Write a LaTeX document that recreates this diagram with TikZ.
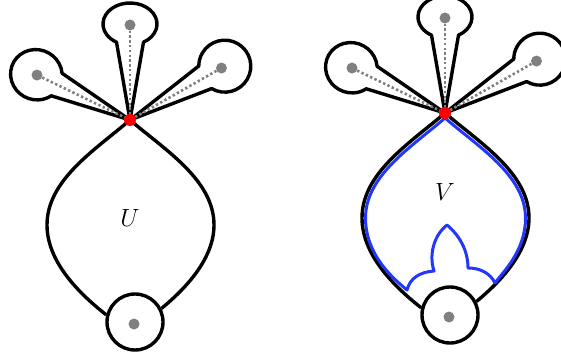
\documentclass[tikz,border=0pt]{standalone}
\usepackage{tikz}
\usetikzlibrary{calc}
\definecolor{curveblue}{RGB}{35,55,250}

\begin{document}
\begin{tikzpicture}[
    x=1pt, y=1pt,
    lobe/.style={draw=black, line width=3.4pt, line join=round},
    body/.style={draw=black, line width=3.4pt},
    hole/.style={circle, draw=black, line width=3.4pt, fill=white, minimum size=56pt, inner sep=0pt},
    gdot/.style={circle, fill=gray, minimum size=11pt, inner sep=0pt},
    link/.style={gray, line width=2.6pt, dash pattern=on 2.4pt off 2.4pt},
    vertex/.style={circle, fill=red, minimum size=12pt, inner sep=0pt},
    trace/.style={draw=curveblue, line width=3pt, line join=round},
    lab/.style={font=\fontsize{28}{30}\selectfont}
]
\useasboundingbox (0,0) rectangle (561,356);

% Two figures, the second one shifted
\foreach \f/\sx/\sy/\lb/\ly in {1/0/0/U/138, 2/315/7/V/157} {
  \begin{scope}[shift={(\sx,\sy)}]
    \coordinate (v\f) at (130,236);

    % Lobes at the vertex
    \foreach \i/\ang/\L/\c/\a/\b in {1/154.2/103.3/104/26/25, 2/90/95/96/21/27, 3/29.6/105.2/109/26/26} {
      \begin{scope}[shift={(130,236)}, rotate=\ang]
        \draw[lobe] (v\f) -- ({\c-0.866*\a},{-0.5*\b})
          arc[start angle=-150, end angle=150, x radius=\a, y radius=\b] -- cycle;
        \node[gdot] (d\f\i) at (\L,0) {};
      \end{scope}
      \draw[link] (d\f\i) -- (v\f);
    }

    % Bottom hole
    \node[hole] (b\f) at (135,34) {};
    \node[gdot] (c\f) at (134,32) {};

    % Body
    \draw[body] (v\f) .. controls (95,206) and (47,176) .. (47,131)
      .. controls (47,91) and (85,58) .. (b\f.166);
    \draw[body] (v\f) .. controls (165,206) and (214,176) .. (214,131)
      .. controls (214,94) and (180,63) .. (b\f.27);

    \node[lab] (n\f) at (130,\ly) {$\lb$};
  \end{scope}
}

% Blue curve inside V
\draw[trace] (445,238) .. controls (413,210) and (365.5,181) .. (365.5,138)
  .. controls (365.5,100) and (395,76) .. (407,66)
  .. controls (410,78) and (420,84) .. (434,85)
  .. controls (429,100) and (433,120) .. (447,131)
  .. controls (459,121) and (468,106) .. (468,88)
  .. controls (480,88) and (490,83) .. (495,73)
  .. controls (503,84) and (525.5,105) .. (525.5,138)
  .. controls (525.5,181) and (477,210) .. (445,238) -- cycle;

% Red vertices on top
\foreach \f in {1,2}
  \node[vertex] (r\f) at (v\f) {};

\end{tikzpicture}
\end{document}
